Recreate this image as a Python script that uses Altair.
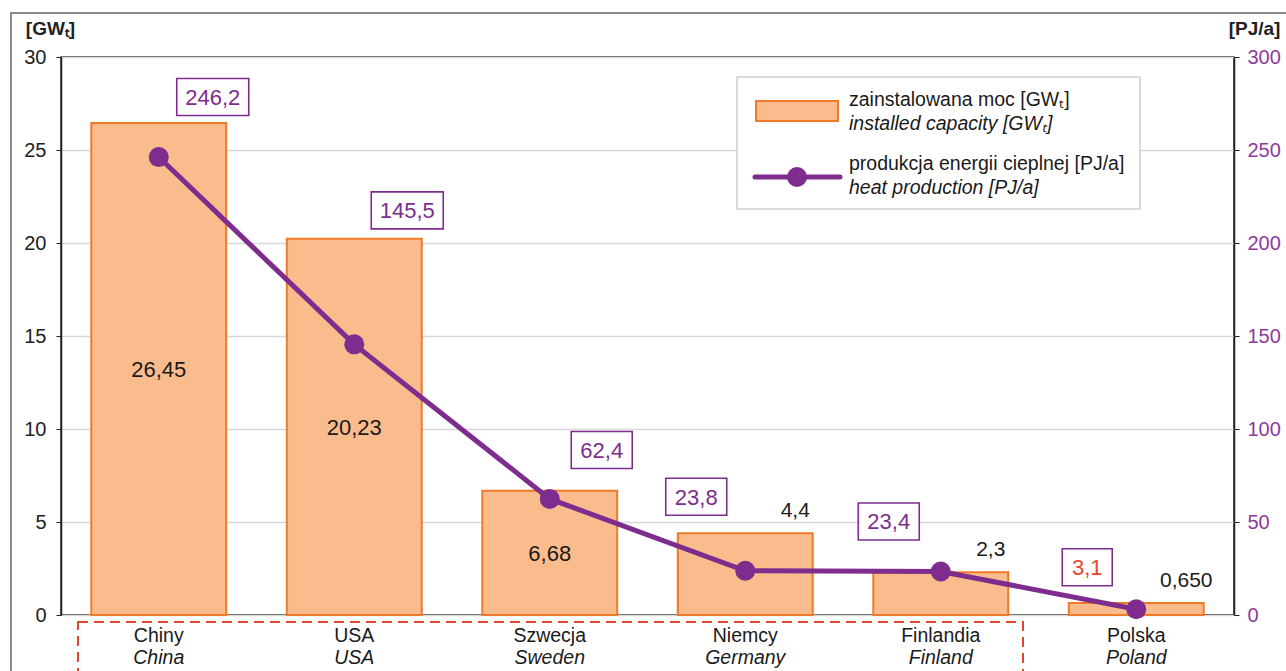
import altair as alt
import pandas as pd

# ---- data -------------------------------------------------------------
countries_pl = ["Chiny", "USA", "Szwecja", "Niemcy", "Finlandia", "Polska"]
countries_en = ["China", "USA", "Sweden", "Germany", "Finland", "Poland"]
capacity_gw = [26.45, 20.23, 6.68, 4.4, 2.3, 0.650]
capacity_decimals = [2, 2, 2, 1, 1, 3]
heat_pj = [246.2, 145.5, 62.4, 23.8, 23.4, 3.1]


def pl_number(value, decimals):
    return f"{value:.{decimals}f}".replace(".", ",")


df = pd.DataFrame({
    "country": countries_pl,
    "country_en": countries_en,
    "gw": capacity_gw,
    "gw_label": [pl_number(v, d) for v, d in zip(capacity_gw, capacity_decimals)],
    "heat": heat_pj,
    "heat_label": [pl_number(v, 1) for v in heat_pj],
})

# ---- styling ----------------------------------------------------------
FONT = "Liberation Sans"
BAR_FILL = "#FABC8C"
BAR_STROKE = "#EE7A2A"
PURPLE = "#7E2C8E"
PURPLE_AXIS = "#8E3A9D"
RED = "#E8452E"
W, H = 1173, 558

# label placement of the boxed heat values relative to their points (dx, dy)
HEAT_SHIFT = {
    "Chiny": (54, -60),
    "USA": (53, -134),
    "Szwecja": (52, -49),
    "Niemcy": (-49, -74),
    "Finlandia": (-52, -50),
    "Polska": (-49, -42),
}

x_enc = alt.X(
    "country:N",
    sort=countries_pl,
    scale=alt.Scale(paddingInner=0.31, paddingOuter=0.155),
    axis=None,
)

gw_axis = alt.Axis(
    orient="left",
    values=[0, 5, 10, 15, 20, 25, 30],
    grid=True,
    gridColor="#D8D8D8",
    gridWidth=1.5,
    domainColor="#222222",
    domainWidth=1.5,
    tickColor="#222222",
    tickSize=5,
    labelPadding=10,
    labelFontSize=20,
    labelColor="#222222",
    title="[GWₜ]",
    titleAngle=0,
    titleAlign="center",
    titleBaseline="middle",
    titleX=-11,
    titleY=-29,
    titleFontSize=19,
    titleFontWeight="bold",
    titleColor="#222222",
)
gw_scale = alt.Scale(domain=[0, 30], nice=False)

pj_axis = alt.Axis(
    orient="right",
    values=[0, 50, 100, 150, 200, 250, 300],
    grid=False,
    domainColor="#222222",
    domainWidth=1.5,
    tickColor="#222222",
    tickSize=5,
    labelPadding=8,
    labelFontSize=20,
    labelColor=PURPLE_AXIS,
    title="[PJ/a]",
    titleAngle=0,
    titleAlign="center",
    titleBaseline="middle",
    titleX=20,
    titleY=-29,
    titleFontSize=19,
    titleFontWeight="bold",
    titleColor="#222222",
)
pj_scale = alt.Scale(domain=[0, 300], nice=False)

base = alt.Chart(df)

# ---- installed capacity (left axis) -----------------------------------
bars = base.mark_bar(fill=BAR_FILL, stroke=BAR_STROKE, strokeWidth=2).encode(
    x=x_enc,
    y=alt.Y("gw:Q", scale=gw_scale, axis=gw_axis),
)

inside_labels = (
    base.transform_filter("datum.gw > 5")
    .transform_calculate(mid="datum.gw / 2")
    .mark_text(fontSize=22, color="#1a1a1a", baseline="middle", dy=1)
    .encode(
        x=x_enc,
        y=alt.Y("mid:Q", scale=gw_scale, axis=gw_axis),
        text="gw_label:N",
    )
)

outside_labels = (
    base.transform_filter("datum.gw <= 5")
    .mark_text(fontSize=21, color="#1a1a1a", baseline="middle", dx=50, dy=-22)
    .encode(
        x=x_enc,
        y=alt.Y("gw:Q", scale=gw_scale, axis=gw_axis),
        text="gw_label:N",
    )
)

# country names under the axis: Polish and English (italic)
names_pl = base.mark_text(fontSize=19.5, color="#1a1a1a", baseline="middle").encode(
    x=x_enc, y=alt.value(H + 21), text="country:N"
)
names_en = base.mark_text(
    fontSize=19.5, color="#1a1a1a", baseline="middle", fontStyle="italic"
).encode(x=x_enc, y=alt.value(H + 43), text="country_en:N")

gw_group = alt.layer(bars, inside_labels, outside_labels, names_pl, names_en)

# ---- heat production (right axis) -------------------------------------
y_heat = alt.Y("heat:Q", scale=pj_scale, axis=pj_axis)

line = base.mark_line(color=PURPLE, strokeWidth=5).encode(x=x_enc, y=y_heat)
dots = base.mark_point(filled=True, color=PURPLE, size=400, opacity=1).encode(
    x=x_enc, y=y_heat
)

heat_layers = [line, dots]
R = 100.0  # symbol scale for size = (2R)^2
for name, label in zip(countries_pl, df["heat_label"]):
    dx, dy = HEAT_SHIFT[name]
    bw = 11 * len(label) + 17
    bh = 37
    x0, x1 = (dx - bw / 2) / R, (dx + bw / 2) / R
    y0, y1 = (dy - bh / 2) / R, (dy + bh / 2) / R
    box_path = f"M{x0:.3f},{y0:.3f}H{x1:.3f}V{y1:.3f}H{x0:.3f}Z"
    one = base.transform_filter(alt.datum.country == name)
    heat_layers.append(
        one.mark_point(
            shape=box_path, size=(2 * R) ** 2, fill="white", fillOpacity=1,
            stroke=PURPLE, strokeWidth=1.6, opacity=1,
        ).encode(x=x_enc, y=y_heat)
    )
    heat_layers.append(
        one.mark_text(
            fontSize=22, baseline="middle", dx=dx, dy=dy + 1,
            color=RED if name == "Polska" else PURPLE,
        ).encode(x=x_enc, y=y_heat, text="heat_label:N")
    )

pj_group = alt.layer(*heat_layers)

# ---- frame, highlighted group and legend -------------------------------
one_row = alt.Chart(pd.DataFrame({"k": [0]}))

outer_frame = one_row.mark_rect(
    fill=None, fillOpacity=0, stroke="#8a8a8a", strokeWidth=2
).encode(x=alt.value(-50), x2=alt.value(W + 200), y=alt.value(-44), y2=alt.value(H + 200))

group_box = one_row.mark_rect(
    fill=None, fillOpacity=0, stroke=RED, strokeWidth=2, strokeDash=[10, 6]
).encode(x=alt.value(17), x2=alt.value(962), y=alt.value(H + 7), y2=alt.value(H + 90))

legend_box = one_row.mark_rect(
    fill="white", stroke="#CFCFCF", strokeWidth=1.5
).encode(x=alt.value(676), x2=alt.value(1079), y=alt.value(20), y2=alt.value(152))

legend_bar = one_row.mark_rect(
    fill=BAR_FILL, stroke=BAR_STROKE, strokeWidth=2
).encode(x=alt.value(695), x2=alt.value(777), y=alt.value(44), y2=alt.value(64))

legend_line = one_row.mark_rule(color=PURPLE, strokeWidth=5, strokeCap="round").encode(
    x=alt.value(694), x2=alt.value(779), y=alt.value(120)
)
legend_dot = one_row.mark_point(filled=True, color=PURPLE, size=400, opacity=1).encode(
    x=alt.value(736), y=alt.value(120)
)


def legend_text(txt, y, italic=False):
    return one_row.mark_text(
        align="left", baseline="middle", fontSize=19.5, color="#1a1a1a",
        fontStyle="italic" if italic else "normal",
    ).encode(x=alt.value(788), y=alt.value(y), text=alt.value(txt))


legend = alt.layer(
    legend_box,
    legend_bar,
    legend_line,
    legend_dot,
    legend_text("zainstalowana moc [GWₜ]", 43),
    legend_text("installed capacity [GWₜ]", 67, italic=True),
    legend_text("produkcja energii cieplnej [PJ/a]", 107),
    legend_text("heat production [PJ/a]", 131, italic=True),
)

chart = (
    alt.layer(outer_frame, group_box, gw_group, pj_group, legend)
    .resolve_scale(y="independent")
    .properties(
        width=W,
        height=H,
        padding={"left": 61, "top": 57, "right": 52, "bottom": 56},
        autosize=alt.AutoSizeParams(type="none"),
        background="white",
    )
    .configure(font=FONT)
    .configure_view(stroke="#222222", strokeWidth=1.5)
)

chart.save("out.html", embed_options={"renderer": "svg", "actions": False})
